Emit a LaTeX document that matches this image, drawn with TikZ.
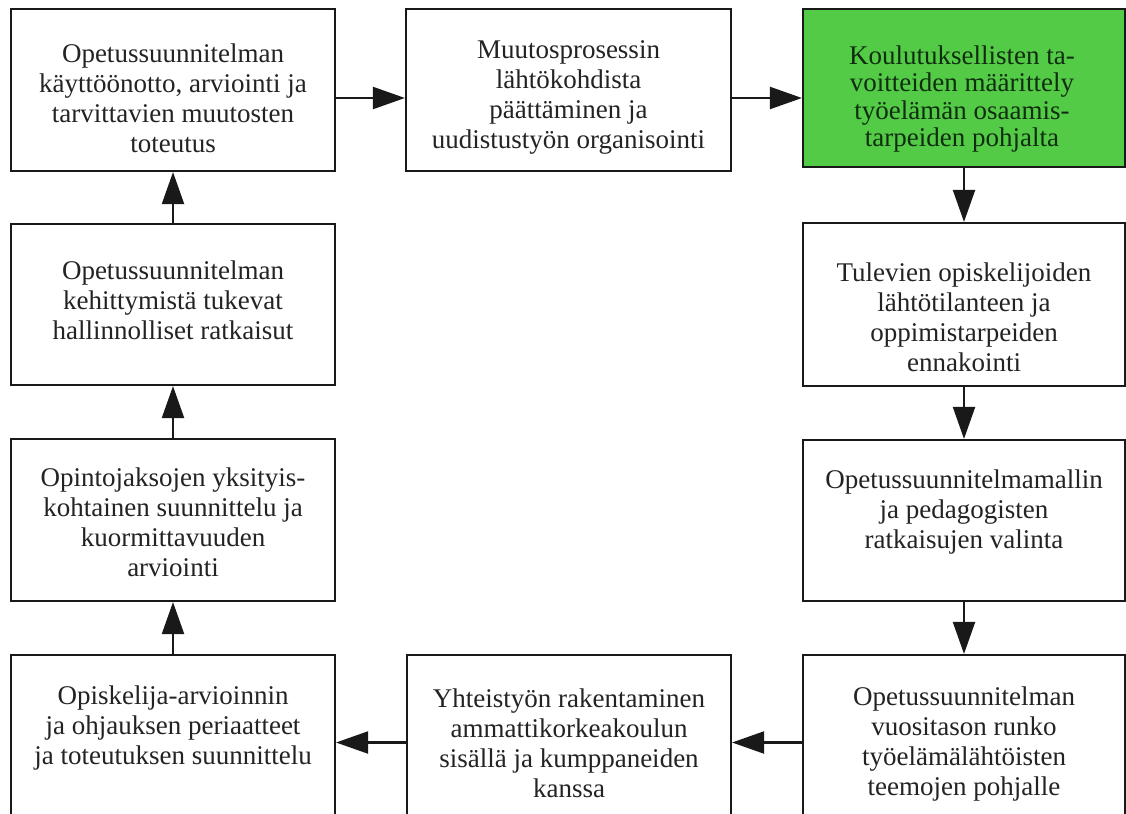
\documentclass[tikz,border=0pt]{standalone}
\usepackage{fontspec}
\setmainfont{Liberation Serif}
\usetikzlibrary{arrows.meta}
\definecolor{linec}{RGB}{25,25,25}
\definecolor{textc}{RGB}{35,35,35}
\definecolor{greenfill}{RGB}{84,203,70}
\definecolor{greentext}{RGB}{15,45,15}
\tikzset{
  box/.style={draw=linec, line width=1.6pt, fill=white, minimum width=324*0.75pt, inner sep=0pt},
  txt/.style={align=center, font=\fontsize{20.25}{22.5}\selectfont, text=textc, inner sep=0pt},
  arr/.style={line width=1.6pt, draw=linec, -{Triangle[length=24pt,width=16.5pt]}},
}
\begin{document}
\begin{tikzpicture}[x=0.75pt,y=-0.75pt]
\useasboundingbox (0,0) rectangle (1126,813);
% boxes
\node[box, minimum height=162*0.75pt] (A) at (173,90) {};
\node[box, minimum width=325*0.75pt, minimum height=162*0.75pt] (B) at (568.5,90) {};
\node[box, fill=greenfill, minimum width=322*0.75pt, minimum height=158*0.75pt] (C) at (964,88) {};
\node[box, minimum width=322*0.75pt, minimum height=163*0.75pt] (D) at (964,304.5) {};
\node[box, minimum width=322*0.75pt, minimum height=161*0.75pt] (E) at (964,520.5) {};
\node[box, minimum width=322*0.75pt, minimum height=175*0.75pt] (F) at (964,742.5) {};
\node[box, minimum height=161*0.75pt] (G) at (173,304.5) {};
\node[box, minimum height=162*0.75pt] (H) at (173,520) {};
\node[box, minimum height=175*0.75pt] (I) at (173,742.5) {};
\node[box, minimum height=175*0.75pt] (J) at (569,742.5) {};
% texts
\node[txt] (tA) at (173,98) {Opetussuunnitelman\\käyttöönotto, arviointi ja\\tarvittavien muutosten\\toteutus};
\node[txt] (tB) at (568.5,97) {Muutosprosessin\\lähtökohdista\\päättäminen ja\\uudistustyön organisointi};
\node[txt, text=greentext, font=\fontsize{20.25}{20.5}\selectfont] (tC) at (962,99) {Koulutuksellisten ta-\\voitteiden määrittely\\työelämän osaamis-\\tarpeiden pohjalta};
\node[txt] (tD) at (964,317) {Tulevien opiskelijoiden\\lähtötilanteen ja\\oppimistarpeiden\\ennakointi};
\node[txt] (tE) at (964,512) {Opetussuunnitelmamallin\\ja pedagogisten\\ratkaisujen valinta};
\node[txt] (tF) at (964,744) {Opetussuunnitelman\\vuositason runko\\työelämälähtöisten\\teemojen pohjalle};
\node[txt] (tG) at (173,300) {Opetussuunnitelman\\kehittymistä tukevat\\hallinnolliset ratkaisut};
\node[txt] (tH) at (173,522) {Opintojaksojen yksityis-\\kohtainen suunnittelu ja\\kuormittavuuden\\arviointi};
\node[txt] (tI) at (173,728) {Opiskelija-arvioinnin\\ja ohjauksen periaatteet\\ja toteutuksen suunnittelu};
\node[txt] (tJ) at (569,743) {Yhteistyön rakentaminen\\ammattikorkeakoulun\\sisällä ja kumppaneiden\\kanssa};
% connectors
\draw[arr] ([yshift=-6pt]A.east) -- ([yshift=-6pt]A.east -| B.west);
\draw[arr] ([yshift=-6pt]B.east) -- ([yshift=-6pt]B.east -| C.west);
\draw[arr] (C.south) -- (D.north);
\draw[arr] (D.south) -- (E.north);
\draw[arr] (E.south) -- (F.north);
\draw[arr] (F.west) -- (J.east);
\draw[arr] (J.west) -- (I.east);
\draw[arr] (I.north) -- (H.south);
\draw[arr] (H.north) -- (G.south);
\draw[arr] (G.north) -- (A.south);
\end{tikzpicture}
\end{document}
